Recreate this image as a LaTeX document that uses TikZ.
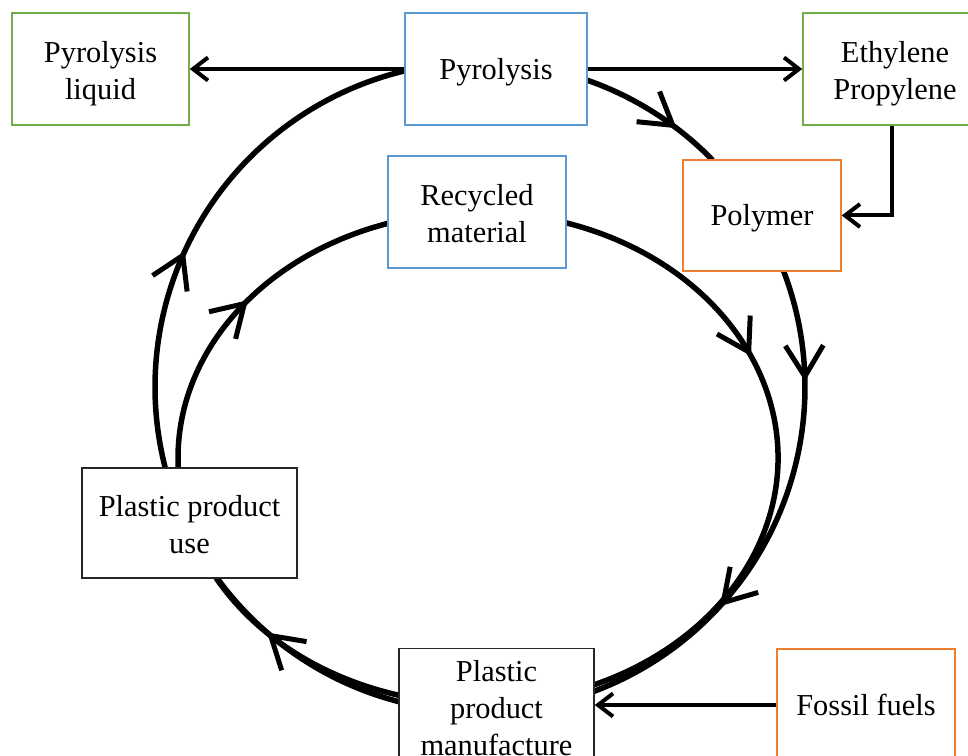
\documentclass[tikz,border=0pt]{standalone}
\usepackage{fontspec}
\setmainfont{Liberation Serif}
\usetikzlibrary{arrows.meta,decorations.markings}
% line box of the serif font, so text sits in the middle of its box
\newcommand{\bxstrut}{\rule[-0.216em]{0pt}{1.107em}}
% taller first line for the two- and three-line boxes
\newcommand{\bxtop}{\rule{0pt}{17.5pt}}

\begin{document}
\begin{tikzpicture}[x=0.02cm,y=-0.02cm,
    box/.style={draw=#1,fill=white,line width=0.03cm,align=center,inner sep=0pt,
      font=\fontsize{17.3}{21}\selectfont,
      execute at begin node=\bxstrut,execute at end node=\bxstrut},
    loop/.style={line width=0.11cm},
    flow/.style={line width=0.08cm,-{Straight Barb[length=0.3cm,width=0.46cm,line width=0.08cm]}},
    midarr/.style={postaction={decorate,decoration={markings,
      mark=at position #1 with {\arrow{Straight Barb[length=0.62cm,width=0.76cm,line width=0.1cm]}}}}}]
   \useasboundingbox (0,0) rectangle (968,756);
   \clip (0,0) rectangle (968,756);
   \definecolor{boxgreen}{HTML}{70AD47}
   \definecolor{boxblue}{HTML}{5B9BD5}
   \definecolor{boxorange}{HTML}{ED7D31}
   % centres of the two cycles
   \coordinate (oc) at (480,387);
   \coordinate (ic) at (478,458);
   % outer cycle
   \draw[loop,midarr=0.68] ([shift={(-70.8:325)}]oc) arc[start angle=-70.8,end angle=-44.3,radius=325];
   \draw[loop,midarr=0.22,midarr=0.70] ([shift={(-20.9:325)}]oc) arc[start angle=-20.9,end angle=69.5,radius=325];
   \draw[loop,midarr=0.67] ([shift={(104.4:325)}]oc) arc[start angle=104.4,end angle=144,radius=325];
   \draw[loop,midarr=0.43] ([shift={(165.6:325)}]oc) arc[start angle=165.6,end angle=256.6,radius=325];
   % inner cycle
   \draw[loop,midarr=0.36] ([shift={(-73.1:300 and 246)}]ic) arc[start angle=-73.1,end angle=67.2,x radius=300,y radius=246];
   \draw[loop] ([shift={(105.3:300 and 246)}]ic) arc[start angle=105.3,end angle=150.8,x radius=300,y radius=246];
   \draw[loop,midarr=0.535] ([shift={(177.7:300 and 246)}]ic) arc[start angle=177.7,end angle=252.7,x radius=300,y radius=246];
   % boxes
   \node[box=boxgreen,minimum width=3.54cm,minimum height=2.24cm] (liquid) at (100.5,69) {\bxtop Pyrolysis\\liquid};
   \node[box=boxblue,minimum width=3.64cm,minimum height=2.24cm] (pyro) at (496,69) {Pyrolysis};
   \node[box=boxgreen,minimum width=3.68cm,minimum height=2.24cm] (olefin) at (895,69) {\bxtop Ethylene\\Propylene};
   \node[box=boxblue,minimum width=3.56cm,minimum height=2.24cm] (recyc) at (477,212) {\bxtop Recycled\\material};
   \node[box=boxorange,minimum width=3.16cm,minimum height=2.22cm] (polymer) at (762,215.5) {Polymer};
   \node[box=black!85,minimum width=4.3cm,minimum height=2.2cm] (use) at (189.5,523) {\bxtop Plastic product\\use};
   \node[box=black!85,minimum width=3.9cm,minimum height=2.32cm] (manuf) at (496.5,706.5) {\bxtop Plastic\\product\\manufacture};
   \node[box=boxorange,minimum width=3.56cm,minimum height=2.24cm] (fossil) at (866,705) {Fossil fuels};
   % feeds
   \draw[flow] (pyro) -- (liquid);
   \draw[flow] (pyro) -- (olefin);
   \draw[flow] ([xshift=-0.06cm]olefin.south) |- (polymer);
   \draw[flow] (fossil.west) -- (fossil.west -| manuf.east);
\end{tikzpicture}
\end{document}
